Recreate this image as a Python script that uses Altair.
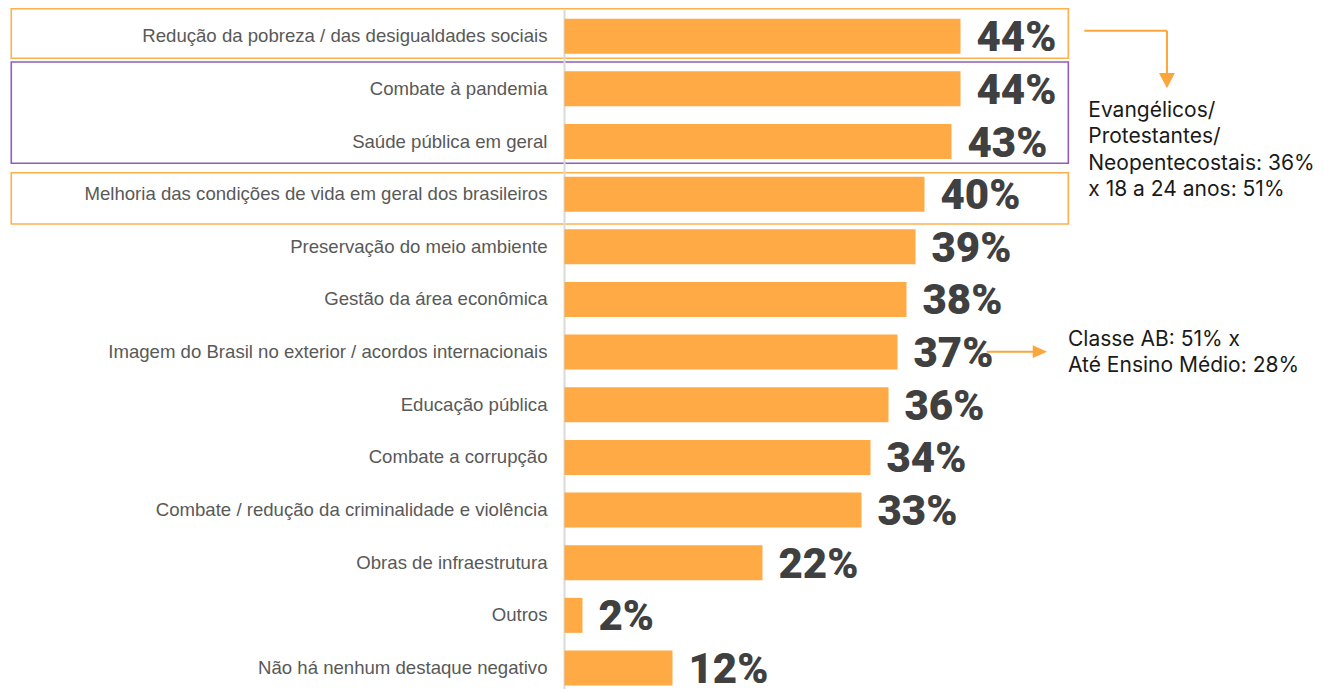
import altair as alt
import pandas as pd

categories = [
    "Redução da pobreza / das desigualdades sociais",
    "Combate à pandemia",
    "Saúde pública em geral",
    "Melhoria das condições de vida em geral dos brasileiros",
    "Preservação do meio ambiente",
    "Gestão da área econômica",
    "Imagem do Brasil no exterior / acordos internacionais",
    "Educação pública",
    "Combate a corrupção",
    "Combate / redução da criminalidade e violência",
    "Obras de infraestrutura",
    "Outros",
    "Não há nenhum destaque negativo",
]
values = [44, 44, 43, 40, 39, 38, 37, 36, 34, 33, 22, 2, 12]

note1 = "Evangélicos/\nProtestantes/\nNeopentecostais: 36%\nx 18 a 24 anos: 51%"
note2 = "Classe AB: 51% x\nAté Ensino Médio: 28%"

# highlight boxes: (x0, x1, row_top, row_bottom, color)
boxes = [
    (-61.47, 55.98, -0.52, 0.42, "#FFB04D"),
    (-61.47, 55.98, 0.49, 2.414, "#8E5DBE"),
    (-61.47, 55.98, 2.593, 3.567, "#FFB04D"),
]

BAR = "#FFAA45"
ORANGE = "#FBA63C"

df = pd.DataFrame({"i": list(range(len(categories))), "cat": categories, "v": values})
df["lbl"] = df["v"].astype(str) + "%"

XS = alt.Scale(domain=[0, 44], range=[554.5, 950.5], nice=False, zero=False, padding=0)
YS = alt.Scale(domain=[0, 12], range=[23.2, 655.0], nice=False, zero=False, padding=0)


def X(f):
    return alt.X(f, type="quantitative", scale=XS, axis=None)


def Y(f):
    return alt.Y(f, type="quantitative", scale=YS, axis=None)


box_df = pd.DataFrame(
    [{"x0": b[0], "x1": b[1], "y0": b[2], "y1": b[3], "c": b[4]} for b in boxes]
)
box_layer = alt.Chart(box_df).mark_rect(fillOpacity=0, strokeWidth=1.6).encode(
    x=X("x0"), x2="x1", y=Y("y0"), y2="y1",
    stroke=alt.Stroke("c:N", scale=None),
)

axis_df = pd.DataFrame({"x": [0], "y0": [-0.5], "y1": [12.8]})
axis_layer = alt.Chart(axis_df).mark_rule(color="#D9D9D9", strokeWidth=2).encode(
    x=X("x"), y=Y("y0"), y2="y1"
)

base = alt.Chart(df)
bars = base.mark_bar(size=35, orient="horizontal", color=BAR).encode(
    x=X("v"), x2=alt.datum(0), y=Y("i")
)
cat_text = base.mark_text(
    align="right", baseline="middle", dx=-17, font="Liberation Sans",
    fontSize=18.6, color="#595959"
).encode(x=alt.X("zero:Q", scale=XS, axis=None), y=Y("i"), text="cat:N").transform_calculate(zero="0")

val_text = base.mark_text(
    align="left", baseline="middle", dx=16, dy=2, font="Roboto",
    fontSize=42, fontWeight=900, color="#404040"
).encode(x=X("v"), y=Y("i"), text="lbl:N")

# arrows
seg_df = pd.DataFrame({
    "x0": [57.76, 66.94, 46.91],
    "x1": [66.94, 66.94, 52.1],
    "y0": [-0.104, -0.104, 5.992],
    "y1": [-0.104, 0.70, 5.992],
})
seg_layer = alt.Chart(seg_df).mark_rule(color=ORANGE, strokeWidth=2).encode(
    x=X("x0"), x2="x1", y=Y("y0"), y2="y1"
)
head_down = alt.Chart(pd.DataFrame({"x": [66.94], "y": [0.844]})).mark_point(
    shape="M-1,-0.94L1,-0.94L0,0.94Z", size=256, filled=True, color=ORANGE, opacity=1
).encode(x=X("x"), y=Y("y"))
head_right = alt.Chart(pd.DataFrame({"x": [52.82], "y": [5.992]})).mark_point(
    shape="M-1,-0.9L1,0L-1,0.9Z", size=204, filled=True, color=ORANGE, opacity=1
).encode(x=X("x"), y=Y("y"))

notes_df = pd.DataFrame({"x": [58.2, 55.94], "y": [1.535, 5.884], "t": [note1, note2]})
notes = alt.Chart(notes_df).mark_text(
    align="left", baseline="alphabetic", font="Inter", fontSize=21,
    lineBreak="\n", lineHeight=26.3, color="#1A1A1A"
).encode(x=X("x"), y=Y("y"), text="t:N")

chart = alt.layer(
    box_layer, axis_layer, bars, cat_text, val_text, seg_layer, head_down, head_right, notes
).properties(
    width=1306, height=676,
    padding={"left": 2, "top": 5, "right": 0, "bottom": 0},
    autosize=alt.AutoSizeParams(type="none"),
).configure(background="white").configure_view(stroke=None)

chart.save("out.html", embed_options={"renderer": "svg", "actions": False})
